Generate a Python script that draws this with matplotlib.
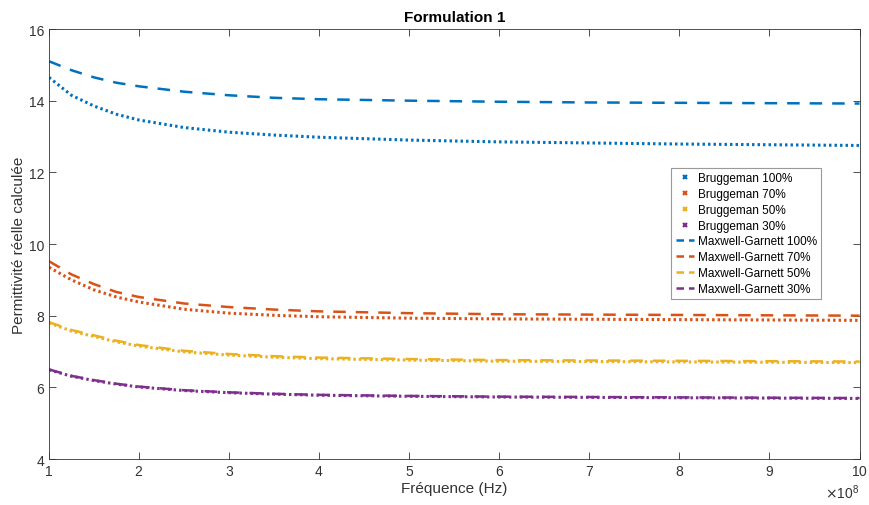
import matplotlib
matplotlib.use("Agg")
import matplotlib.pyplot as plt
from matplotlib.lines import Line2D
from matplotlib.ticker import MultipleLocator

plt.rcParams['font.family'] = ['Liberation Sans', 'DejaVu Sans']

freq = [1, 1.25, 1.5, 1.75, 2, 2.5, 3, 3.5, 4, 5, 6, 7, 8, 9, 10]  # x 1e8 Hz

b100 = [14.65, 14.15, 13.85, 13.62, 13.46, 13.25, 13.12, 13.04, 12.98, 12.90, 12.85, 12.82, 12.79, 12.77, 12.75]
b70 = [9.35, 9.00, 8.72, 8.52, 8.38, 8.18, 8.07, 8.01, 7.97, 7.93, 7.91, 7.90, 7.89, 7.88, 7.87]
b50 = [7.80, 7.57, 7.42, 7.27, 7.15, 6.99, 6.90, 6.84, 6.80, 6.76, 6.73, 6.72, 6.71, 6.70, 6.69]
b30 = [6.49, 6.31, 6.19, 6.09, 6.01, 5.91, 5.85, 5.81, 5.78, 5.75, 5.73, 5.72, 5.71, 5.70, 5.69]

mg100 = [15.10, 14.85, 14.65, 14.50, 14.40, 14.25, 14.15, 14.08, 14.04, 14.00, 13.97, 13.95, 13.94, 13.93, 13.92]
mg70 = [9.52, 9.15, 8.88, 8.66, 8.52, 8.34, 8.24, 8.17, 8.12, 8.07, 8.04, 8.03, 8.02, 8.01, 8.00]
mg50 = [7.82, 7.60, 7.45, 7.30, 7.18, 7.02, 6.93, 6.87, 6.83, 6.79, 6.76, 6.75, 6.74, 6.73, 6.72]
mg30 = [6.50, 6.32, 6.20, 6.10, 6.02, 5.92, 5.86, 5.82, 5.79, 5.76, 5.74, 5.73, 5.72, 5.71, 5.70]

colors = ['#0072BD', '#D95319', '#EDB120', '#7E2F8E']
b_series = [b100, b70, b50, b30]
mg_series = [mg100, mg70, mg50, mg30]
b_labels = ['Bruggeman 100%', 'Bruggeman 70%', 'Bruggeman 50%', 'Bruggeman 30%']
mg_labels = ['Maxwell-Garnett 100%', 'Maxwell-Garnett 70%', 'Maxwell-Garnett 50%', 'Maxwell-Garnett 30%']

fig = plt.figure(figsize=(8.7, 5.06), dpi=100)
ax = fig.add_axes([0.0563, 0.0909, 0.9317, 0.8498])

x = [f * 1e8 for f in freq]
for ys, c in zip(b_series, colors):
    ax.plot(x, ys, color=c, lw=2.2, linestyle=(0, (0.8, 1.0)))
for ys, c in zip(mg_series, colors):
    ax.plot(x, ys, color=c, lw=1.8, linestyle=(0, (5, 4)))

handles = []
for c, l in zip(colors, b_labels):
    handles.append(Line2D([], [], color=c, marker='x', markersize=3, mew=1.5, linestyle='none', label=l))
for c, l in zip(colors, mg_labels):
    handles.append(Line2D([], [], color=c, lw=1.8, linestyle=(0, (3, 2)), label=l))

leg = ax.legend(handles=handles, loc='upper right', bbox_to_anchor=(0.96, 0.69),
                fontsize=8.5, handlelength=1.6, handletextpad=0.3, labelspacing=0.32,
                borderpad=0.35, fancybox=False, edgecolor='#999999', framealpha=1)
leg.get_frame().set_linewidth(0.8)

ax.set_xlim(1e8, 1e9)
ax.set_ylim(4, 16)
ax.xaxis.set_major_locator(MultipleLocator(1e8))
ax.yaxis.set_major_locator(MultipleLocator(2))
ax.ticklabel_format(axis='x', style='sci', scilimits=(8, 8), useMathText=True)
ax.tick_params(direction='in', top=True, right=True, labelsize=10, colors='#333333', length=5, width=0.6)
ax.xaxis.get_offset_text().set_fontsize(10)
for s in ax.spines.values():
    s.set_color('#333333')
    s.set_linewidth(0.6)

ax.set_title('Formulation 1', fontsize=11, fontweight='bold', pad=6)
ax.set_xlabel('Fréquence (Hz)', fontsize=11, color='#333333', labelpad=2)
ax.set_ylabel('Permittivité réelle calculée', fontsize=11, color='#333333', labelpad=2)

fig.savefig('out.png', dpi=100)
